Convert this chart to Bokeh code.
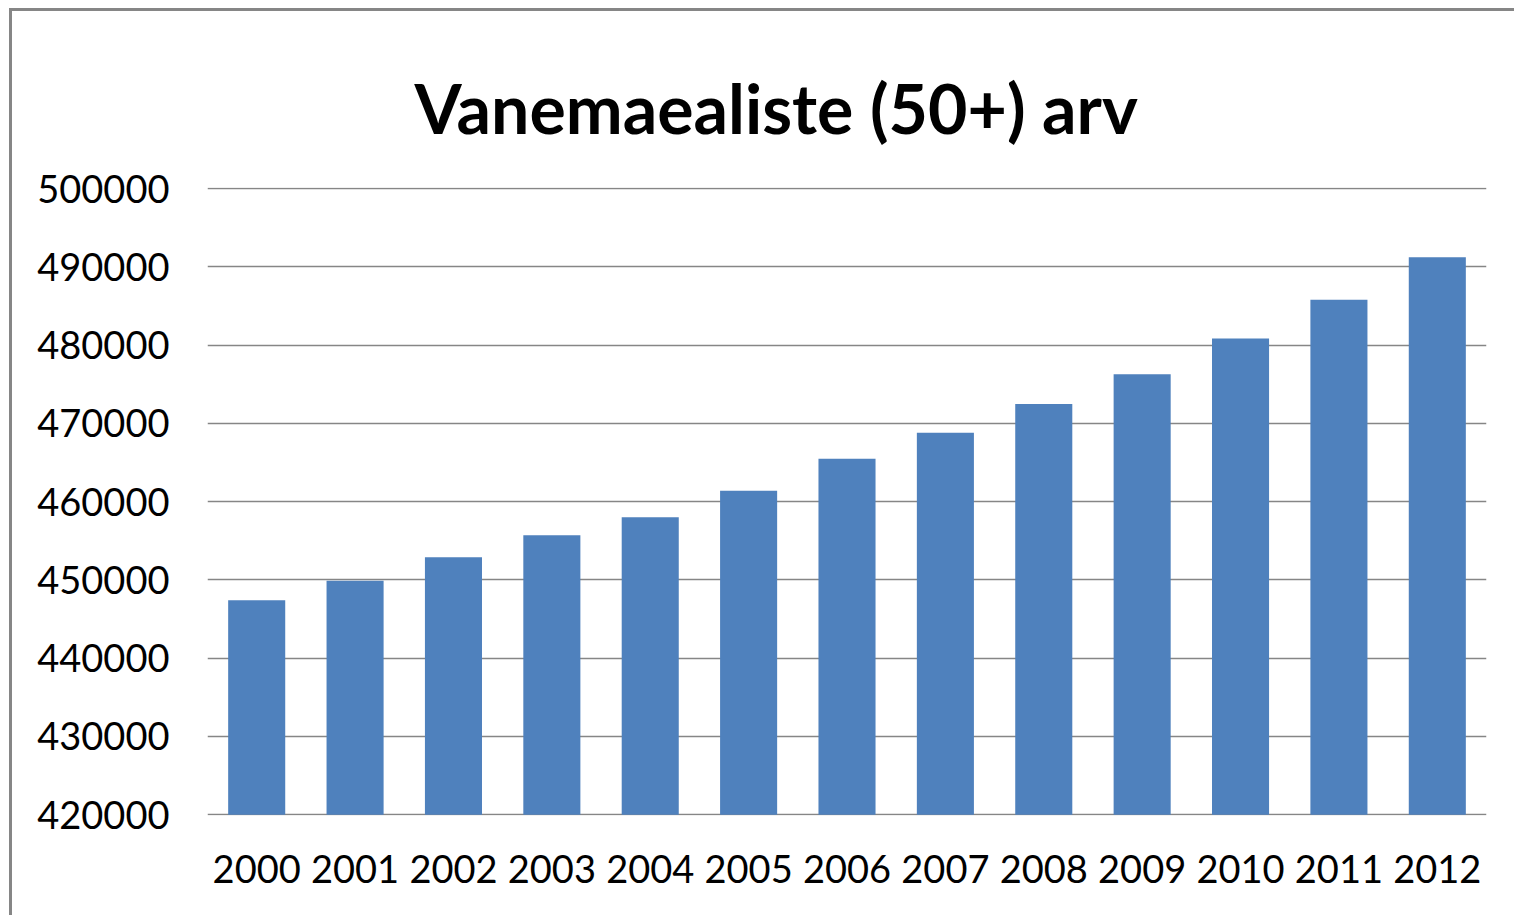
from bokeh.plotting import figure
from bokeh.models import FixedTicker, Range1d, NumeralTickFormatter, Title
from bokeh.embed import file_html
from bokeh.resources import INLINE

years = ["2000", "2001", "2002", "2003", "2004", "2005", "2006",
         "2007", "2008", "2009", "2010", "2011", "2012"]
counts = [447400, 449900, 452900, 455700, 458000, 461400, 465500,
          468800, 472500, 476300, 480850, 485820, 491240]
y_ticks = [420000, 430000, 440000, 450000, 460000, 470000, 480000, 490000, 500000]
title_text = "Vanemaealiste  (50+) arv"

FONT = "Lato"
GRID = "#868686"

p = figure(x_range=years, y_range=Range1d(419900, 500150),
           width=1505, height=907, output_backend="svg", toolbar_location=None,
           min_border_left=195, min_border_right=31, min_border_top=176, min_border_bottom=103)
p.styles = {"border-left": "3px solid #868686", "border-top": "3px solid #868686",
            "margin-left": "9px", "margin-top": "8px"}

p.vbar(x=years, top=counts, bottom=420000, width=0.58, color="#4F81BD", line_color=None)

p.outline_line_color = None
p.background_fill_color = "white"
p.border_fill_color = "white"

p.xgrid.grid_line_color = None
p.ygrid.grid_line_color = GRID
p.ygrid.grid_line_width = 1.6
p.yaxis.ticker = FixedTicker(ticks=y_ticks)
p.yaxis.formatter = NumeralTickFormatter(format="0")

for ax in (p.xaxis, p.yaxis):
    ax.axis_line_color = None
    ax.major_tick_line_color = None
    ax.minor_tick_line_color = None
    ax.major_label_text_font = FONT
    ax.major_label_text_font_size = "38px"
    ax.major_label_text_color = "black"
p.xaxis.major_label_standoff = 33
p.yaxis.major_label_standoff = 32

title = Title(text=title_text, text_font=FONT, text_font_size="68px",
              text_font_style="bold", text_color="black", align="left",
              offset=207, standoff=79)
p.add_layout(title, "above")

open("out.html", "w").write(file_html(p, INLINE))
